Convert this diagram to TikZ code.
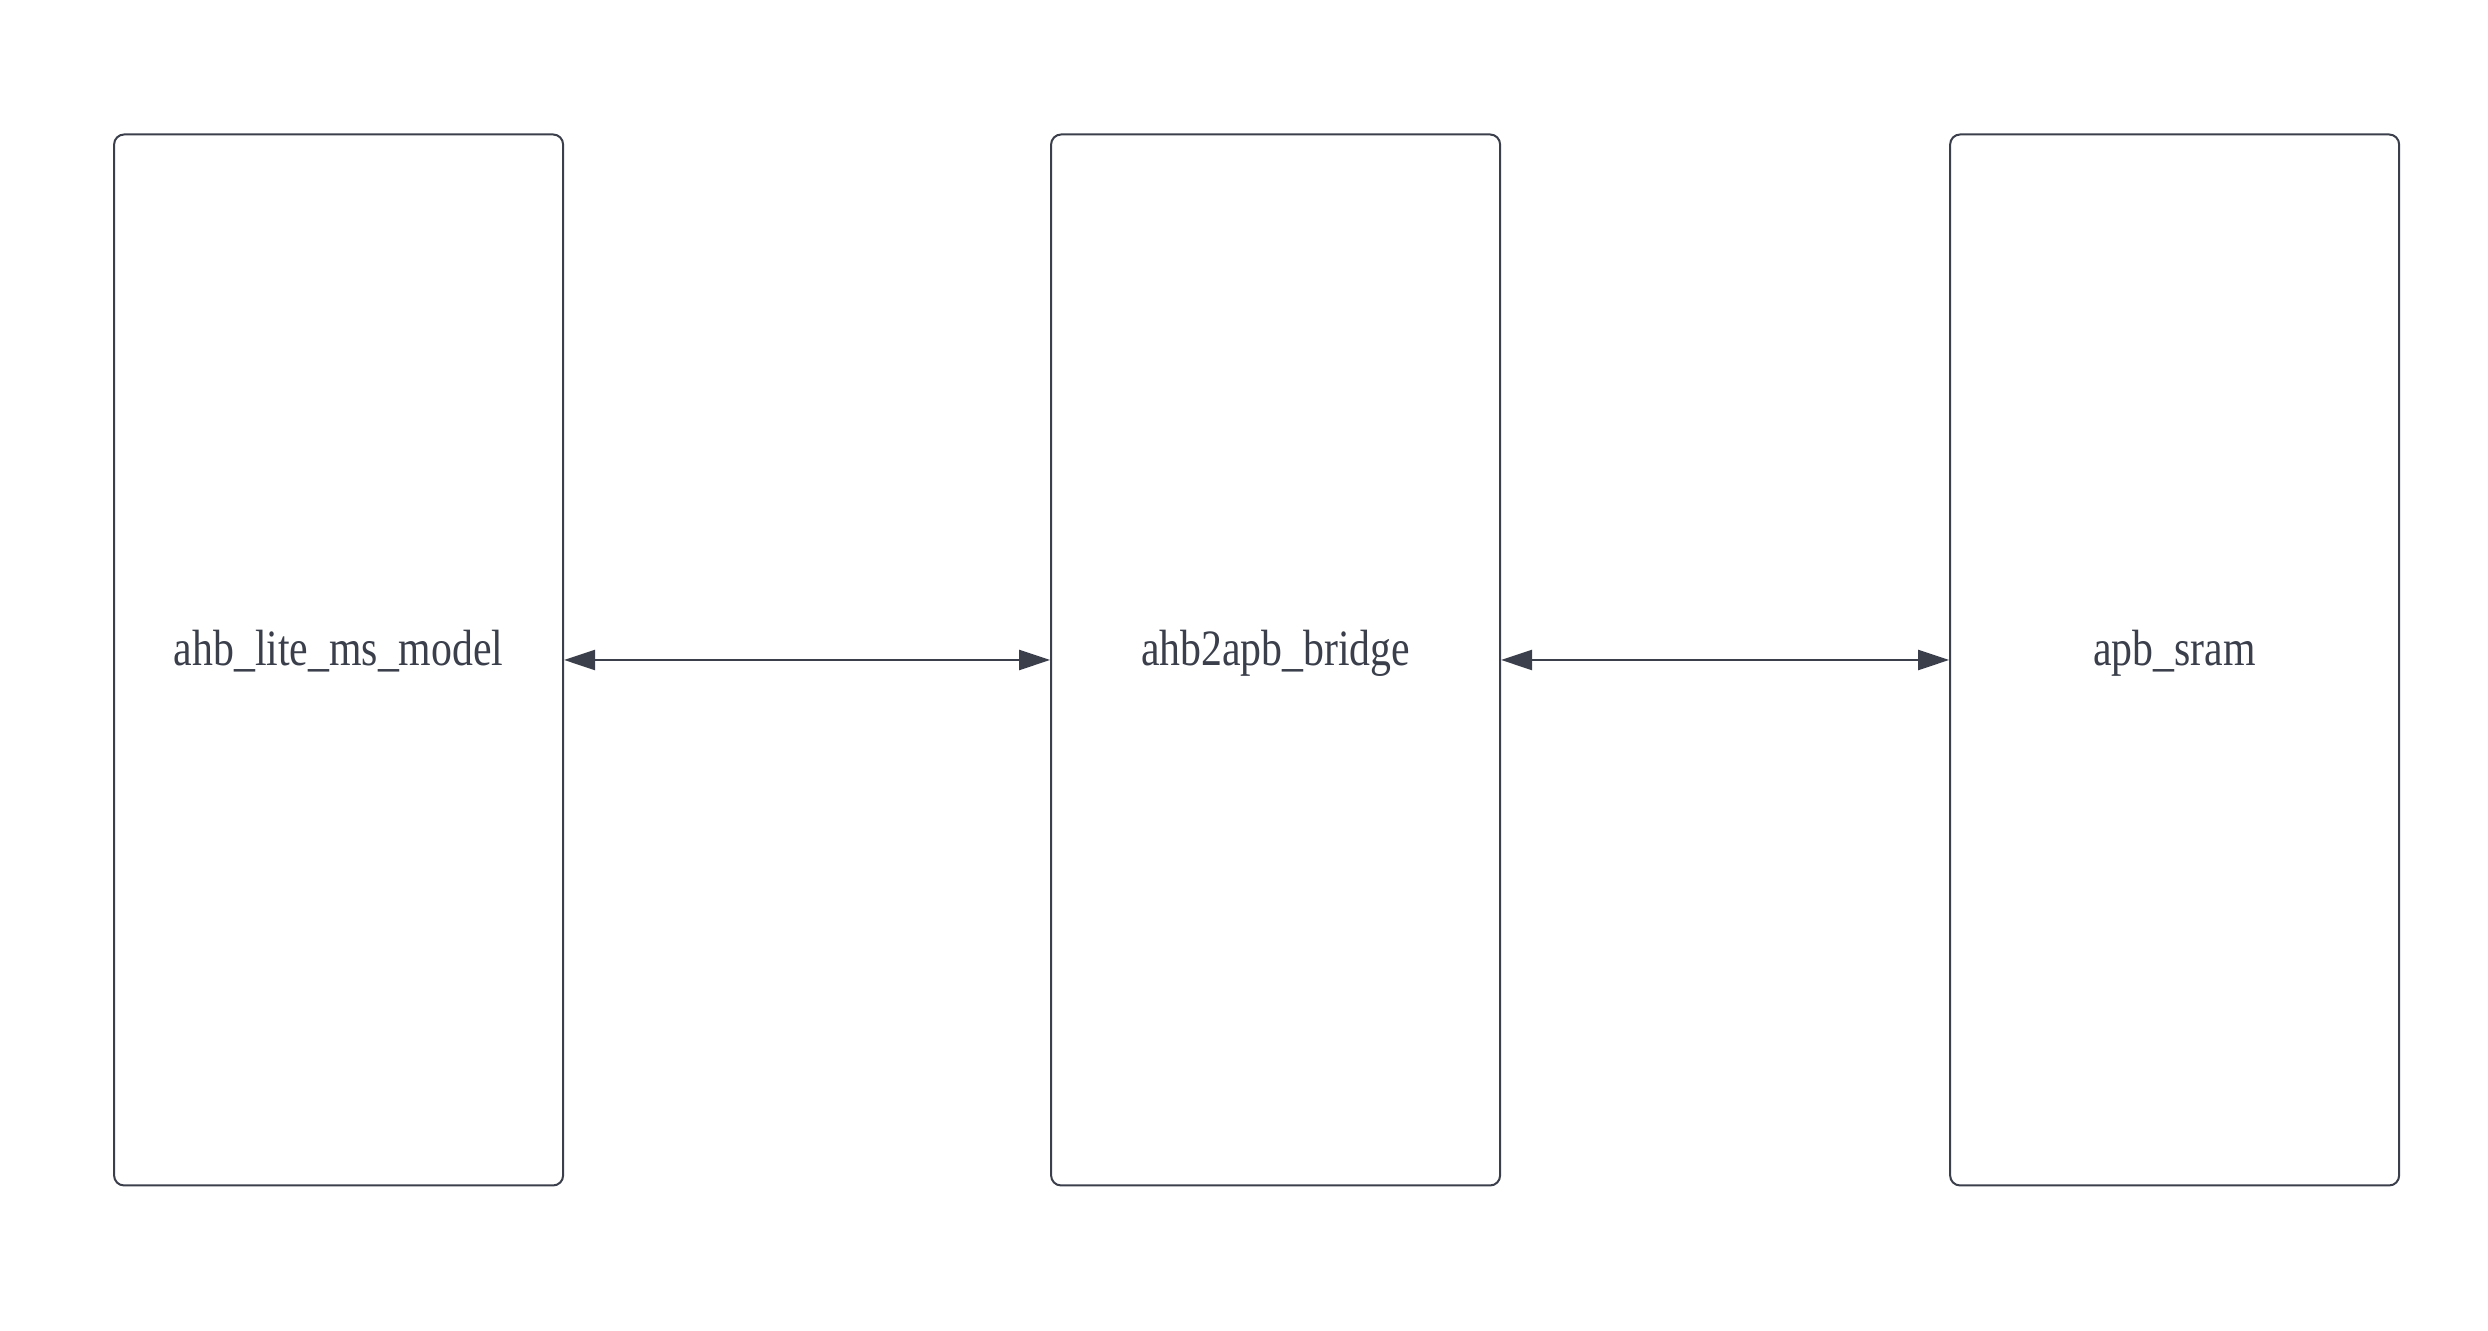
\documentclass[tikz,border=0pt]{standalone}
\usepackage{fontspec}
\setmainfont[FakeStretch=0.82]{Liberation Serif}
\usepackage{tikz}
\usetikzlibrary{arrows.meta,positioning}
\definecolor{ink}{HTML}{3A3F4B}

\begin{document}
\begin{tikzpicture}[node distance=4.86cm]
\tikzstyle{block}=[draw=ink,line width=0.57pt,rounded corners=1mm,minimum width=4.49cm,minimum height=10.51cm,inner sep=0pt,text height=3.5mm,text depth=2.4mm,text=ink,font=\fontsize{14.5}{17}\selectfont]
\tikzstyle{link}=[draw=ink,line width=0.66pt,{Triangle[length=3.1mm,width=2mm]}-{Triangle[length=3.1mm,width=2mm]}]

\useasboundingbox (0,0) rectangle (24.88,13.31);

\node[block] (master) at (3.386,6.71) {ahb\_lite\_ms\_model};
\node[block,right=of master] (bridge) {ahb2apb\_bridge};
\node[block,right=4.48cm of bridge] (sram) {apb\_sram};

\draw[link] (master) -- (bridge);
\draw[link] (bridge) -- (sram);
\end{tikzpicture}
\end{document}
